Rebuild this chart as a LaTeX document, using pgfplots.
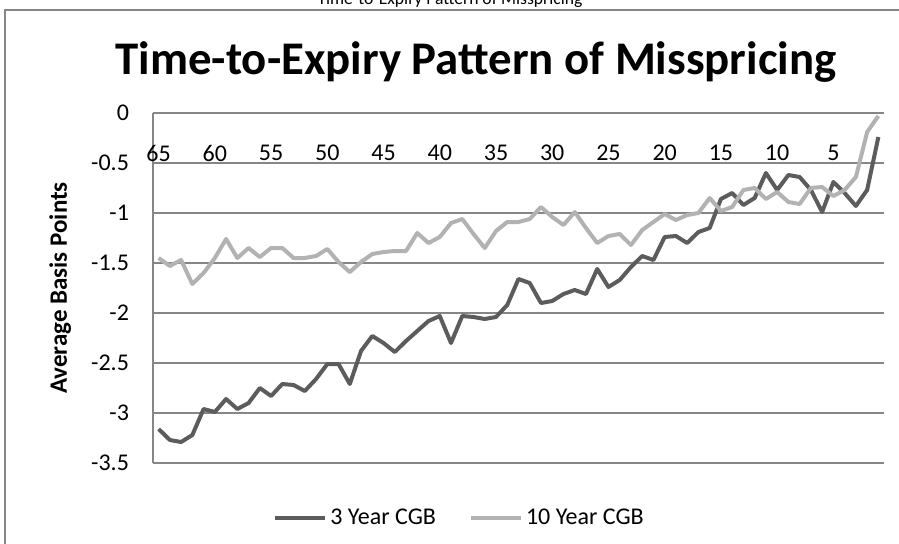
\documentclass[border=0pt]{standalone}
\usepackage{fontspec}
\setmainfont{Carlito}
\usepackage{pgfplots}
\pgfplotsset{compat=1.18}
\usepackage{pgfplotstable}
\definecolor{darkser}{RGB}{92,92,92}
\definecolor{lightser}{RGB}{178,178,178}
\definecolor{gridc}{RGB}{134,134,134}
\pgfplotstableread{
k three ten
65 -3.16 -1.45
64 -3.27 -1.53
63 -3.29 -1.47
62 -3.22 -1.71
61 -2.96 -1.60
60 -2.99 -1.45
59 -2.86 -1.26
58 -2.96 -1.45
57 -2.90 -1.35
56 -2.75 -1.44
55 -2.83 -1.35
54 -2.71 -1.35
53 -2.72 -1.45
52 -2.78 -1.45
51 -2.66 -1.43
50 -2.51 -1.36
49 -2.51 -1.49
48 -2.71 -1.59
47 -2.38 -1.49
46 -2.23 -1.41
45 -2.30 -1.39
44 -2.39 -1.38
43 -2.28 -1.38
42 -2.18 -1.20
41 -2.08 -1.30
40 -2.03 -1.24
39 -2.30 -1.10
38 -2.03 -1.06
37 -2.04 -1.21
36 -2.06 -1.35
35 -2.04 -1.18
34 -1.92 -1.09
33 -1.66 -1.09
32 -1.70 -1.06
31 -1.90 -0.94
30 -1.88 -1.04
29 -1.81 -1.12
28 -1.77 -0.99
27 -1.81 -1.15
26 -1.56 -1.30
25 -1.74 -1.23
24 -1.67 -1.21
23 -1.54 -1.32
22 -1.43 -1.17
21 -1.47 -1.09
20 -1.24 -1.01
19 -1.23 -1.07
18 -1.30 -1.02
17 -1.19 -1.00
16 -1.15 -0.85
15 -0.86 -0.98
14 -0.80 -0.94
13 -0.92 -0.77
12 -0.85 -0.75
11 -0.60 -0.86
10 -0.77 -0.79
9 -0.62 -0.89
8 -0.64 -0.91
7 -0.77 -0.75
6 -0.99 -0.74
5 -0.69 -0.83
4 -0.80 -0.77
3 -0.93 -0.64
2 -0.77 -0.19
1 -0.24 -0.03
}\datatable
\begin{document}
\begin{tikzpicture}
\useasboundingbox (0,0) rectangle (449.5pt,271.5pt);
\draw[gridc, line width=0.6pt] (2.5pt,-20pt) -- (2.5pt,266.5pt) -- (470pt,266.5pt);
\node[anchor=base, font=\fontsize{8.8}{10}\selectfont] at (225pt,269.5pt) {Time-to-Expiry Pattern of Misspricing};
\node[font=\fontsize{23.4}{28}\selectfont\bfseries] at (238pt,240.5pt) {Time-to-Expiry Pattern of Misspricing};
\begin{axis}[
  at={(76.5pt,40pt)}, anchor=south west,
  scale only axis, width=365.5pt, height=175pt,
  xmin=0.5, xmax=65.5, x dir=reverse,
  ymin=-3.5, ymax=0,
  axis y line=left, axis x line=top,
  axis line style={-, draw=gridc, line width=0.6pt},
  xtick={65,60,55,50,45,40,35,30,25,20,15,10,5},
  xticklabels={65,60,55,50,45,40,35,30,25,20,15,10,5},
  ytick={0,-0.5,-1,-1.5,-2,-2.5,-3,-3.5},
  yticklabels={0\hspace{4.5pt},-0.5,-1,-1.5,-2,-2.5,-3,-3.5},
  major tick length=0pt,
  ymajorgrids, grid style={draw=gridc, line width=0.6pt},
  tick label style={font=\fontsize{12}{14}\selectfont},
  xticklabel style={anchor=north, yshift=-12.5pt},
  yticklabel style={xshift=-8.5pt},
  ylabel={\bfseries Average Basis  Points},
  ylabel style={font=\fontsize{12.5}{14}\selectfont, at={(axis description cs:-0.127,0.5)}, anchor=center},
  legend columns=2,
  legend style={draw=none, at={(0.42,-0.157)}, anchor=center, font=\fontsize{12}{14}\selectfont, nodes={inner xsep=1.5pt}, /tikz/every even column/.append style={column sep=15pt}},
  legend image code/.code={\draw[#1] (0cm,0cm) -- (0.88cm,0cm);},
  clip=false,
]
\addplot[darkser, line width=2pt, line join=round] table[x=k, y=three] {\datatable};
\addlegendentry{3 Year CGB}
\addplot[lightser, line width=2pt, line join=round] table[x=k, y=ten] {\datatable};
\addlegendentry{10 Year CGB}
\end{axis}
\end{tikzpicture}
\end{document}
